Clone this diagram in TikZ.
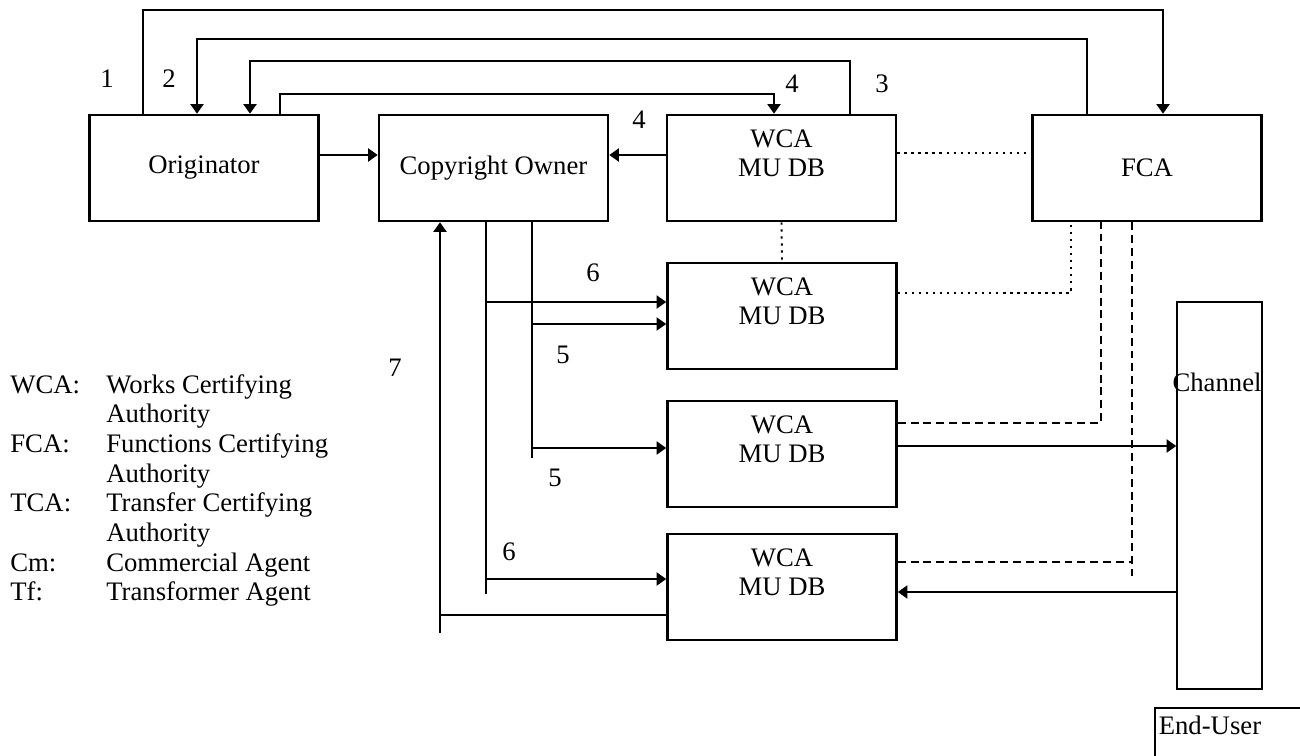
\documentclass[tikz,border=0pt]{standalone}
\usepackage{fontspec}
\setmainfont{Liberation Serif}
\usetikzlibrary{arrows.meta}
\tikzset{
  box/.style={draw, line width=1.5pt, minimum width=4.58cm, minimum height=2.12cm, inner sep=0pt, align=center},
  thinbox/.style={draw, line width=0.9pt, inner sep=0pt},
  link/.style={line width=1.1pt},
  dotlink/.style={line width=1.1pt, dash pattern=on 1.3pt off 2.7pt},
  dashlink/.style={line width=1.1pt, dash pattern=on 4.5pt off 2.8pt},
  num/.style={inner sep=0pt},
  >={Triangle[length=5.5pt,width=7.5pt]}
}

\begin{document}
\begin{tikzpicture}[x=0.02cm, y=-0.02cm, font=\fontsize{15.2}{16.9}\selectfont]
  \useasboundingbox (0,0) rectangle (1300,756);
  \clip (0,0) rectangle (1300,756);

  % boxes
  \node[box] (orig) at (204,168) {Originator};
  \node[box] (co) at (493.5,168) {Copyright Owner};
  \node[box] (wca1) at (781.5,168) {WCA\\MU DB\\~};
  \node[box] (fca) at (1147,168) {FCA};
  \node[box] (wca2) at (782,316) {WCA\\MU DB\\~};
  \node[box] (wca3) at (782,454) {WCA\\MU DB\\~};
  \node[box] (wca4) at (782,587) {WCA\\MU DB\\~};
  \node[thinbox, minimum width=1.7cm, minimum height=7.74cm] (chan) at (1219.5,495.5) {};
  \node[num] (chanlbl) at (1217,382) {Channel};
  \node[thinbox, anchor=north west, text width=3.2cm, align=left, inner xsep=0.08cm, inner ysep=0.16cm] (user) at (1154,707) {End-User\\~};

  % top loops
  \draw[link,->] (orig.north -| 143,0) |- (1163,10) -- (fca.north -| 1163,0);
  \draw[link,->] (fca.north -| 1087,0) |- (197,39) -- (orig.north -| 197,0);
  \draw[link,->] (wca1.north -| 850,0) |- (250,61) -- (orig.north -| 250,0);
  \draw[link,->] (orig.north -| 280,0) |- (774,94) -- (wca1.north -| 774,0);
  \node[num] (n1) at (107,79) {1};
  \node[num] (n2) at (169,79) {2};
  \node[num] (n3) at (882,84) {3};
  \node[num] (n4a) at (792,84) {4};
  \node[num] (n4b) at (639,120) {4};

  \draw[link,->] (orig.east |- 0,155) -- (co.west |- 0,155);
  \draw[link,->] (wca1.west |- 0,155) -- (co.east |- 0,155);

  % certifying links
  \draw[dotlink] (wca1.east |- 0,153) -- (fca.west |- 0,153);
  \draw[dotlink] (wca1.south) -- (wca2.north);
  \draw[dotlink] (wca2.east |- 0,293) -| (fca.south -| 1071,0);
  \draw[dashlink] (wca3.east |- 0,423) -| (fca.south -| 1101,0);
  \draw[dashlink] (fca.south -| 1132,0) -- (1132,576);
  \draw[dashlink] (wca4.east |- 0,562) -- (1132,562);

  % channel
  \draw[link,->] (wca3.east |- 0,446) -- (chan.west |- 0,446);
  \draw[link,->] (chan.west |- 0,592) -- (wca4.east |- 0,592);

  % from copyright owner
  \draw[link] (co.south -| 486,0) -- (486,594);
  \draw[link,->] (486,302) -- (wca2.west |- 0,302);
  \draw[link,->] (486,579) -- (wca4.west |- 0,579);
  \draw[link] (co.south -| 532,0) -- (532,458);
  \draw[link,->] (532,324) -- (wca2.west |- 0,324);
  \draw[link,->] (532,448) -- (wca3.west |- 0,448);
  \draw[link,->] (wca4.west |- 0,615) -| (co.south -| 440,0);
  \draw[link] (440,615) -- (440,633);
  \node[num] (n6a) at (593,273) {6};
  \node[num] (n5a) at (563,355) {5};
  \node[num] (n7) at (395,368) {7};
  \node[num] (n5b) at (555,478) {5};
  \node[num] (n6b) at (509,552) {6};

  % legend
  \node[anchor=north west, inner sep=0pt] (legend) at (10,372) {%
    \begin{tabular}{@{}p{1.92cm}@{}l@{}}
      WCA: & Works Certifying\\
           & Authority\\
      FCA: & Functions Certifying\\
           & Authority\\
      TCA: & Transfer Certifying\\
           & Authority\\
      Cm:  & Commercial Agent\\
      Tf:  & Transformer Agent
    \end{tabular}};
\end{tikzpicture}
\end{document}
